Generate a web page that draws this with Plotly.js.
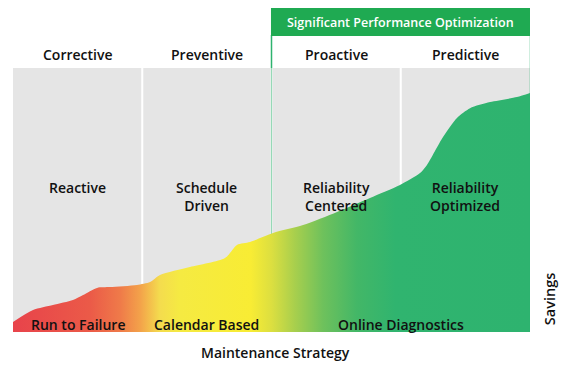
<!DOCTYPE html>
<html>
<head>
<meta charset="utf-8">
<script src="https://cdn.plot.ly/plotly-3.0.1.min.js"></script>
<style>html,body{margin:0;padding:0;background:#fff;}#chart{width:570px;height:370px;}</style>
</head>
<body>
<div id="chart"></div>
<script>
// Strategy columns (x from 0 to 4, one unit per column)
const columns = ['Corrective', 'Preventive', 'Proactive', 'Predictive'];
const approachLabels = ['Reactive', 'Schedule<br>Driven', 'Reliability<br>Centered', 'Reliability<br>Optimized'];
const methodLabels = ['Run to Failure', 'Calendar Based', 'Online Diagnostics'];
const methodPositions = [0.5, 1.5, 3.0];
const headerText = 'Significant Performance Optimization';
const xTitle = 'Maintenance Strategy';
const yTitle = 'Savings';

// Savings curve
const curveX = [0, 0.155, 0.309, 0.464, 0.542, 0.650, 0.750, 0.959, 1.060, 1.137, 1.369, 1.640, 1.733, 1.834, 2.012, 2.244, 2.507, 2.762, 2.994, 3.149, 3.203, 3.327, 3.435, 3.536, 3.691, 3.899, 4.0];
const curveY = [3.8, 8.3, 10.2, 12.1, 14.0, 16.7, 17.0, 17.8, 18.9, 21.6, 24.6, 28.0, 33.0, 34.1, 37.5, 40.5, 45.5, 50.8, 55.7, 60.2, 63.3, 73.9, 81.1, 84.8, 87.1, 89.0, 90.5];

const gradient = [
  [0, '#e8434b'], [0.149, '#eb5a48'], [0.207, '#ef7a49'], [0.246, '#f3a24a'],
  [0.284, '#f4dc4e'], [0.323, '#f5ea42'], [0.46, '#f8ec34'], [0.50, '#dcdf40'],
  [0.545, '#a8cf4d'], [0.60, '#6ec15c'], [0.665, '#43b767'], [0.74, '#30b46f'], [1, '#2eb36f']
];

const FONT = 'Open Sans, sans-serif';
const TXT = '#111111';
const GREEN = '#2eb36f';

const trace = {
  x: curveX, y: curveY, type: 'scatter', mode: 'lines',
  line: {width: 0, shape: 'spline', smoothing: 0.7},
  fill: 'tozeroy',
  fillgradient: {type: 'horizontal', colorscale: gradient, start: 0, stop: 4},
  hoverinfo: 'skip'
};

const shapes = [];
for (let i = 0; i < 4; i++) {
  shapes.push({type: 'rect', layer: 'below', xref: 'x', yref: 'y',
    x0: i + (i > 0 ? 0.008 : 0), x1: i + 1 - (i < 3 ? 0.008 : 0), y0: 0, y1: 100,
    fillcolor: '#e5e5e5', line: {width: 0}});
}
// green separator at Proactive start
shapes.push({type: 'line', layer: 'below', xref: 'x', yref: 'paper', x0: 2, x1: 2, y0: 0, y1: 1.0,
  line: {color: 'rgba(46,179,111,0.5)', width: 1.5}});
shapes.push({type: 'line', xref: 'x', yref: 'paper', x0: 2, x1: 2, y0: 1.0, y1: 1.125,
  line: {color: GREEN, width: 1.5}});
shapes.push({type: 'line', xref: 'x', yref: 'paper', x0: 4.006, x1: 4.006, y0: 0, y1: 1.125,
  line: {color: GREEN, width: 2}});
// header box
shapes.push({type: 'rect', xref: 'x', yref: 'paper', x0: 1.996, x1: 4.014, y0: 1.121, y1: 1.227,
  fillcolor: '#1faa52', line: {width: 0}});

const base = {showarrow: false, xanchor: 'center', yanchor: 'middle'};
const f = (size, color) => ({family: FONT, size: size, weight: 600, color: color || TXT});
const annotations = [];
columns.forEach((c, i) => annotations.push(Object.assign({}, base, {text: c, x: i + 0.5, xref: 'x', y: 1.053, yref: 'paper', font: f(14)})));
approachLabels.forEach((c, i) => annotations.push(Object.assign({}, base, {text: c, x: i + 0.5, xref: 'x', y: 0.59, yref: 'paper',
  yanchor: 'top', font: f(14)})));
methodLabels.forEach((c, i) => annotations.push(Object.assign({}, base, {text: c, x: methodPositions[i], xref: 'x', y: 0.03, yref: 'paper', font: f(14)})));
annotations.push(Object.assign({}, base, {text: headerText, x: 3.0, xref: 'x', y: 1.174, yref: 'paper', font: f(12.5, '#ffffff')}));
annotations.push(Object.assign({}, base, {text: xTitle, x: 0.507, xref: 'paper', y: -0.076, yref: 'paper', font: f(14)}));
annotations.push(Object.assign({}, base, {text: yTitle, x: 1.037, xref: 'paper', y: 0.125, yref: 'paper', textangle: -90, font: f(14.5)}));

const layout = {
  width: 570, height: 370,
  margin: {l: 13, r: 40, t: 68, b: 38},
  paper_bgcolor: '#ffffff', plot_bgcolor: '#ffffff',
  showlegend: false,
  xaxis: {range: [0, 4], visible: false, fixedrange: true},
  yaxis: {range: [0, 100], visible: false, fixedrange: true},
  shapes: shapes, annotations: annotations
};

Plotly.newPlot('chart', [trace], layout, {displayModeBar: false, staticPlot: true});
</script>
</body>
</html>
